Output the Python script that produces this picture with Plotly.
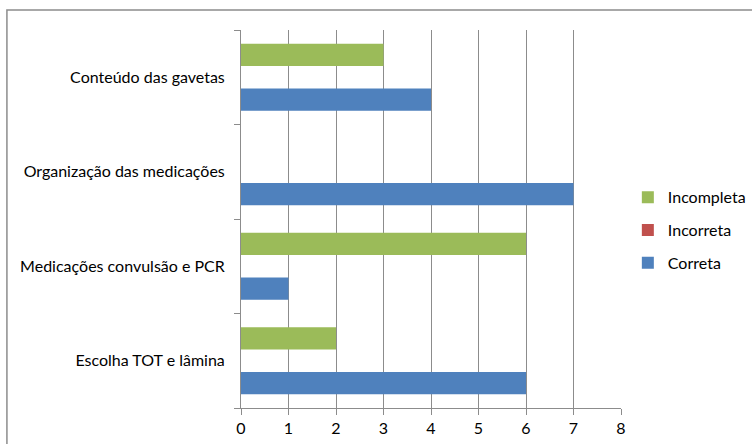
import plotly.graph_objects as go

categorias = ["Escolha TOT e lâmina", "Medicações convulsão e PCR",
              "Organização das medicações", "Conteúdo das gavetas"]
correta = [6, 1, 7, 4]
incorreta = [0, 0, 0, 0]
incompleta = [2, 6, 0, 3]
x_ticks = [0, 1, 2, 3, 4, 5, 6, 7, 8]

FONT = "Lato"

fig = go.Figure()
for nome, vals, cor, rank in [("Correta", correta, "#4F81BD", 3),
                              ("Incorreta", incorreta, "#C0504D", 2),
                              ("Incompleta", incompleta, "#9BBB59", 1)]:
    fig.add_trace(go.Bar(y=categorias, x=vals, name=nome, orientation="h",
                         legendgroup=nome, legendrank=rank,
                         marker=dict(color=cor, line=dict(width=0))))

fig.update_layout(
    width=752, height=444,
    margin=dict(l=241, r=131, t=30, b=36, autoexpand=False),
    paper_bgcolor="white", plot_bgcolor="white",
    barmode="group", bargap=0.29, bargroupgap=0,
    font=dict(family=FONT, size=16, color="#000000"),
    showlegend=True,
    legend=dict(traceorder="grouped", x=1.018, y=0.47,
                yanchor="middle", xanchor="left", font=dict(size=16),
                itemwidth=30, tracegroupgap=9, bgcolor="rgba(0,0,0,0)"),
    xaxis=dict(range=[0, 8], tickvals=x_ticks, showgrid=True,
               gridcolor="#8C8C8C", gridwidth=1, showline=True,
               linecolor="#8C8C8C", linewidth=1, ticks="outside",
               ticklen=6, tickcolor="#8C8C8C", zeroline=False,
               tickfont=dict(size=16)),
    yaxis=dict(categoryorder="array", categoryarray=categorias,
               showline=True, linecolor="#8C8C8C", linewidth=1,
               ticks="outside", tickson="boundaries", ticklen=6,
               tickcolor="#8C8C8C", showgrid=False, ticklabelstandoff=12,
               tickfont=dict(size=16)),
)

# chart frame
fig.add_shape(type="rect", xref="paper", yref="paper",
              x0=-0.616, x1=1.6, y0=-0.3, y1=1.053,
              line=dict(color="#8C8C8C", width=1.5), layer="below")

fig.write_html("out.html")
